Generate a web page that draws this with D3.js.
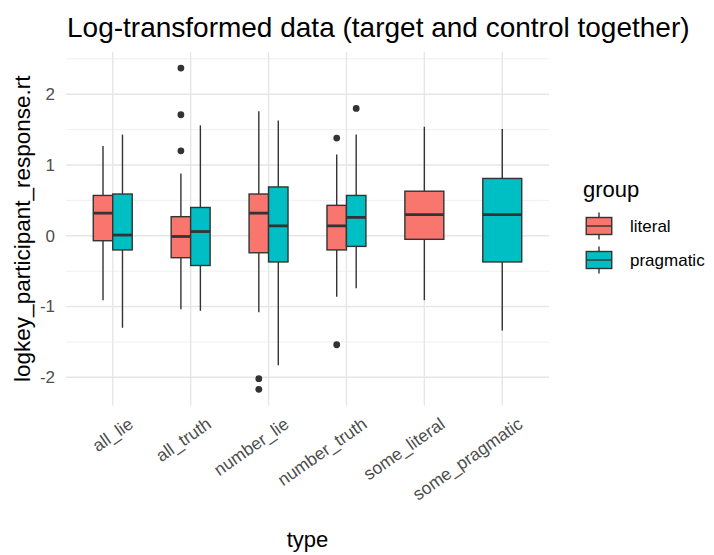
<!DOCTYPE html>
<html>
<head>
<meta charset="utf-8">
<script src="https://cdn.jsdelivr.net/npm/d3@7"></script>
<style>
  html, body { margin: 0; padding: 0; background: #fff; }
  svg { display: block; font-family: "Liberation Sans", Arial, sans-serif; }
</style>
</head>
<body>
<svg id="chart" width="714" height="555"></svg>
<script>
// ---- data ----
const categories = ["all_lie", "all_truth", "number_lie", "number_truth", "some_literal", "some_pragmatic"];
const groups = ["literal", "pragmatic"];
const groupColors = ["#F8766D", "#00BFC4"];
const yTicks = [-2, -1, 0, 1, 2];
const yTickLabels = ["-2", "-1", "0", "1", "2"];
const yMinorTicks = [-1.5, -0.5, 0.5, 1.5, 2.5];

// box statistics per (category, group): [lower whisker, q1, median, q3, upper whisker]
const boxCategory = ["all_lie", "all_lie", "all_truth", "all_truth", "number_lie", "number_lie", "number_truth", "number_truth", "some_literal", "some_pragmatic"];
const boxGroup    = ["literal", "pragmatic", "literal", "pragmatic", "literal", "pragmatic", "literal", "pragmatic", "literal", "pragmatic"];
const lowerWhisker = [-0.91, -1.30, -1.04, -1.06, -1.08, -1.83, -0.86, -0.74, -0.91, -1.34];
const q1Values     = [-0.07, -0.20, -0.31, -0.42, -0.24, -0.37, -0.20, -0.15, -0.05, -0.37];
const medianValues = [ 0.32,  0.01, -0.01,  0.06,  0.32,  0.14,  0.14,  0.26,  0.30,  0.30];
const q3Values     = [ 0.57,  0.59,  0.27,  0.40,  0.59,  0.69,  0.43,  0.57,  0.63,  0.81];
const upperWhisker = [ 1.27,  1.43,  0.88,  1.56,  1.76,  1.63,  1.15,  1.43,  1.54,  1.51];
const outlierValues = [[], [], [1.20, 1.71, 2.37], [], [-2.02, -2.17], [], [1.38, -1.54], [1.80], [], []];

// ---- layout ----
const svg = d3.select("#chart");
const panel = { left: 66, right: 549, top: 52, bottom: 405.4 };
const allVals = lowerWhisker.concat(upperWhisker, outlierValues.flat());
const dmin = d3.min(allVals), dmax = d3.max(allVals);
const pad = (dmax - dmin) * 0.05;

const x = d3.scalePoint().domain(categories).range([panel.left, panel.right]).padding(0.6);
const step = x.step();
const y = d3.scaleLinear().domain([dmin - pad, dmax + pad]).range([panel.bottom, panel.top]);
const color = d3.scaleOrdinal().domain(groups).range(groupColors);

// grid
const grid = svg.append("g");
grid.selectAll("line.minor").data(yMinorTicks).join("line")
  .attr("x1", panel.left).attr("x2", panel.right)
  .attr("y1", d => y(d)).attr("y2", d => y(d))
  .attr("stroke", "#ebebeb").attr("stroke-width", 0.8);
grid.selectAll("line.major").data(yTicks).join("line")
  .attr("x1", panel.left).attr("x2", panel.right)
  .attr("y1", d => y(d)).attr("y2", d => y(d))
  .attr("stroke", "#e6e6e6").attr("stroke-width", 1.4);
grid.selectAll("line.vmajor").data(categories).join("line")
  .attr("x1", d => x(d)).attr("x2", d => x(d))
  .attr("y1", panel.top).attr("y2", panel.bottom)
  .attr("stroke", "#e6e6e6").attr("stroke-width", 1.4);

// y axis labels
const yAxis = d3.axisLeft(y).tickValues(yTicks).tickSize(0).tickPadding(0)
  .tickFormat((d, i) => yTickLabels[i]);
const yg = svg.append("g").attr("transform", `translate(55,0)`).call(yAxis);
yg.select(".domain").remove();
yg.selectAll("text").attr("font-size", 17).attr("fill", "#4d4d4d")
  .attr("font-family", "Liberation Sans, Arial, sans-serif");

// x axis labels
const xAxis = d3.axisBottom(x).tickSize(0).tickPadding(0);
const xg = svg.append("g").attr("transform", `translate(0,${panel.bottom})`).call(xAxis);
xg.select(".domain").remove();
xg.selectAll("text")
  .attr("font-size", 17.5).attr("fill", "#4d4d4d")
  .attr("font-family", "Liberation Sans, Arial, sans-serif")
  .attr("text-anchor", "end")
  .attr("dy", "0.72em")
  .attr("y", 0)
  .attr("transform", "translate(14,11) rotate(-35)");

// boxes
const nGroupsIn = {};
boxCategory.forEach(c => { nGroupsIn[c] = (nGroupsIn[c] || 0) + 1; });
const boxes = boxCategory.map((c, i) => {
  const n = nGroupsIn[c];
  const w = step * 0.5 / n;
  const gi = n === 1 ? 0 : groups.indexOf(boxGroup[i]);
  const cx = x(c) - step * 0.25 + w * (gi + 0.5);
  return { c, g: boxGroup[i], cx, w, lo: lowerWhisker[i], q1: q1Values[i], med: medianValues[i], q3: q3Values[i], hi: upperWhisker[i], out: outlierValues[i] };
});

const bg = svg.append("g");
const bx = bg.selectAll("g.box").data(boxes).join("g");
bx.append("line")
  .attr("x1", d => d.cx).attr("x2", d => d.cx)
  .attr("y1", d => y(d.hi)).attr("y2", d => y(d.q3))
  .attr("stroke", "#333").attr("stroke-width", 1.4);
bx.append("line")
  .attr("x1", d => d.cx).attr("x2", d => d.cx)
  .attr("y1", d => y(d.q1)).attr("y2", d => y(d.lo))
  .attr("stroke", "#333").attr("stroke-width", 1.4);
bx.append("rect")
  .attr("x", d => d.cx - d.w / 2).attr("width", d => d.w)
  .attr("y", d => y(d.q3)).attr("height", d => y(d.q1) - y(d.q3))
  .attr("fill", d => color(d.g)).attr("stroke", "#333").attr("stroke-width", 1.4);
bx.append("line")
  .attr("x1", d => d.cx - d.w / 2).attr("x2", d => d.cx + d.w / 2)
  .attr("y1", d => y(d.med)).attr("y2", d => y(d.med))
  .attr("stroke", "#333").attr("stroke-width", 2.8);
bx.selectAll("circle").data(d => d.out.map(v => ({ v, cx: d.cx }))).join("circle")
  .attr("cx", d => d.cx).attr("cy", d => y(d.v)).attr("r", 3.4).attr("fill", "#333");

// titles
svg.append("text").attr("x", 67).attr("y", 37)
  .attr("font-size", 28).attr("fill", "#000").text("Log-transformed data (target and control together)");
svg.append("text").attr("x", (panel.left + panel.right) / 2).attr("y", 547)
  .attr("text-anchor", "middle").attr("font-size", 22).attr("fill", "#000").text("type");
svg.append("text")
  .attr("transform", `translate(30,${(panel.top + panel.bottom) / 2}) rotate(-90)`)
  .attr("text-anchor", "middle").attr("font-size", 22.5).attr("fill", "#000")
  .text("logkey_participant_response.rt");

// legend
const lg = svg.append("g");
lg.append("text").attr("x", 583).attr("y", 197).attr("font-size", 22).attr("fill", "#000").text("group");
const keySize = 34;
const keys = lg.selectAll("g.key").data(groups).join("g")
  .attr("transform", (d, i) => `translate(582,${209 + i * keySize})`);
keys.append("line")
  .attr("x1", keySize / 2).attr("x2", keySize / 2)
  .attr("y1", keySize * 0.1).attr("y2", keySize * 0.9)
  .attr("stroke", "#333").attr("stroke-width", 1.4);
keys.append("rect")
  .attr("x", keySize * 0.125).attr("width", keySize * 0.75)
  .attr("y", keySize * 0.25).attr("height", keySize * 0.5)
  .attr("fill", d => color(d)).attr("stroke", "#333").attr("stroke-width", 1.4);
keys.append("line")
  .attr("x1", keySize * 0.125).attr("x2", keySize * 0.875)
  .attr("y1", keySize / 2).attr("y2", keySize / 2)
  .attr("stroke", "#333").attr("stroke-width", 1.4);
keys.append("text")
  .attr("x", 48).attr("y", keySize / 2).attr("dy", "0.35em")
  .attr("font-size", 17).attr("fill", "#000").text(d => d);
</script>
</body>
</html>
